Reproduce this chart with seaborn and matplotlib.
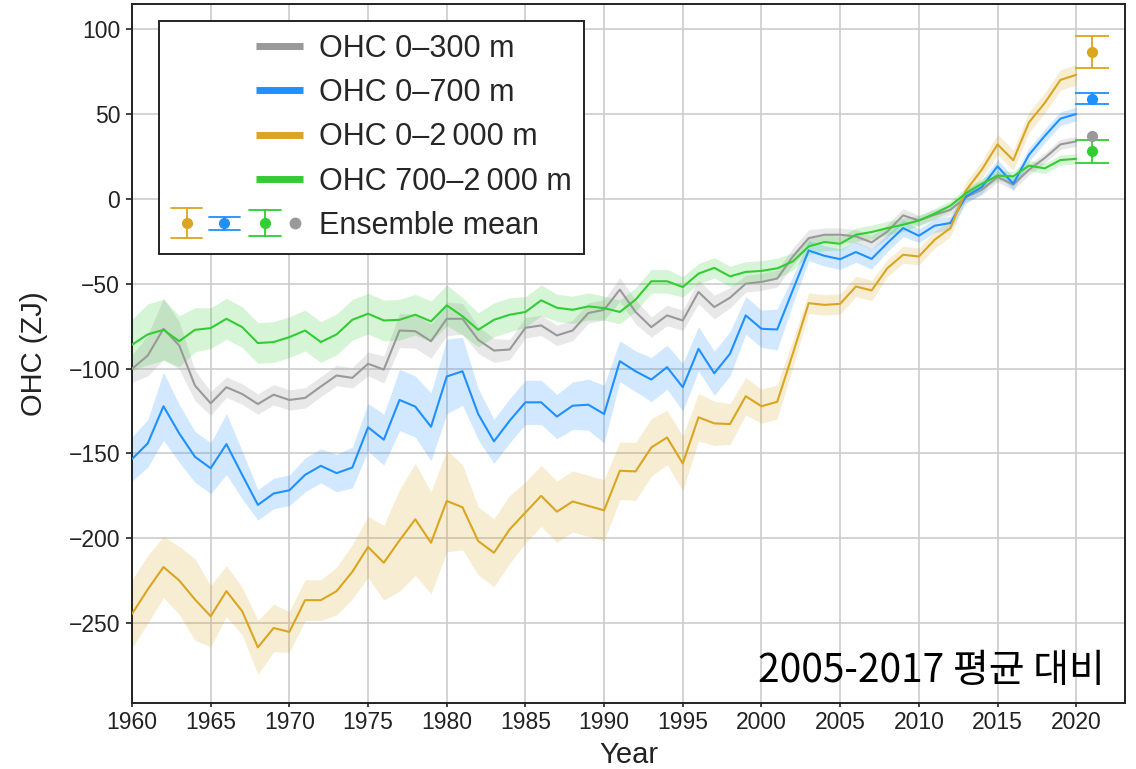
import seaborn as sns
import matplotlib.pyplot as plt
from matplotlib.lines import Line2D
from matplotlib.legend_handler import HandlerBase

years = list(range(1960, 2021))

# ocean heat content anomaly (ZJ), relative to 2005-2017 mean
ohc_300 = [-100.2, -92.3, -76.6, -86.4, -110.0, -120.5, -111.0, -115.0, -120.9, -115.4,
           -118.5, -117.3, -110.6, -104.1, -105.5, -97.2, -100.6, -77.6, -78.0, -83.9,
           -70.7, -70.7, -83.1, -89.4, -88.8, -76.0, -74.6, -80.5, -77.6, -67.3,
           -65.4, -53.5, -66.7, -75.6, -68.7, -71.7, -54.9, -63.8, -58.3, -50.0,
           -49.0, -47.0, -34.0, -23.2, -21.2, -21.2, -22.2, -25.7, -19.3, -9.8,
           -12.8, -9.4, -6.5, 1.0, 5.3, 12.8, 8.3, 17.1, 24.0, 32.0, 33.8]
ohc_700 = [-153.3, -144.1, -122.2, -138.2, -152.0, -158.7, -144.5, -162.6, -180.3, -173.6,
           -171.7, -162.6, -157.3, -161.6, -158.3, -134.6, -141.9, -118.5, -122.4, -134.3,
           -104.7, -101.6, -126.8, -142.9, -130.7, -119.9, -119.9, -128.3, -121.9, -121.3,
           -126.8, -95.7, -101.6, -106.5, -99.2, -111.0, -88.4, -102.8, -91.3, -68.7,
           -76.6, -77.0, -53.6, -30.5, -33.6, -35.6, -31.4, -35.4, -26.1, -17.3,
           -21.8, -15.9, -14.3, 1.4, 6.9, 19.1, 8.8, 25.9, 37.0, 47.2, 49.9]
ohc_2000 = [-244.5, -230.1, -216.9, -224.8, -236.0, -245.9, -231.1, -242.9, -264.2, -252.8,
            -255.1, -236.4, -236.4, -231.1, -219.7, -205.1, -214.4, -201.2, -188.8, -202.6,
            -178.0, -181.7, -201.6, -208.5, -194.7, -184.8, -175.0, -184.3, -178.3, -180.9,
            -183.5, -160.2, -160.6, -146.5, -140.6, -155.9, -128.7, -132.3, -132.7, -116.3,
            -122.2, -119.6, -91.0, -61.5, -62.5, -61.9, -51.7, -54.0, -40.9, -33.0,
            -34.0, -24.2, -17.3, 4.9, 17.1, 32.0, 22.7, 45.0, 56.4, 70.0, 73.0]
ohc_700_2000 = [-86.0, -79.9, -77.2, -83.9, -77.2, -76.2, -70.7, -75.6, -85.0, -84.4,
                -81.5, -77.6, -84.4, -79.9, -71.3, -67.7, -71.7, -71.3, -68.3, -72.2,
                -62.8, -69.2, -77.2, -71.3, -68.3, -66.7, -59.8, -64.2, -65.4, -63.4,
                -64.4, -66.7, -59.4, -48.6, -48.6, -52.0, -44.1, -40.7, -45.7, -43.1,
                -42.5, -41.0, -36.9, -28.1, -25.5, -26.5, -21.2, -19.6, -17.3, -15.3,
                -12.8, -8.8, -4.1, 3.3, 8.8, 13.6, 13.2, 19.5, 17.9, 22.8, 23.5]

# half-width of the uncertainty bands
unc_300 = [8, 12, 18, 14, 9, 7, 6, 6, 6, 6,
           6, 6, 6, 6, 6, 7, 8, 10, 10, 10,
           10, 9, 8, 7, 6, 6, 6, 6, 6, 6,
           6, 7, 7, 6, 6, 6, 7, 7, 6, 5,
           5, 5, 5, 5, 4, 4, 4, 4, 4, 4,
           3, 3, 3, 3, 3, 3, 3, 3, 3, 3, 3]
unc_700 = [13, 14, 20, 17, 15, 15, 18, 14, 9, 9,
           9, 10, 10, 11, 12, 14, 15, 18, 18, 20,
           22, 20, 15, 13, 13, 13, 13, 13, 14, 15,
           17, 12, 12, 13, 13, 14, 13, 13, 13, 11,
           11, 12, 8, 6, 6, 6, 6, 6, 5, 5,
           4, 4, 4, 4, 4, 4, 4, 4, 4, 4, 4]
unc_2000 = [20, 20, 18, 20, 24, 18, 15, 14, 16, 14,
            12, 12, 12, 14, 16, 18, 22, 30, 33, 30,
            30, 25, 20, 20, 20, 18, 18, 18, 18, 18,
            18, 17, 17, 17, 16, 16, 14, 13, 12, 11,
            10, 10, 8, 6, 6, 6, 6, 6, 5, 5,
            5, 5, 5, 5, 5, 6, 6, 6, 6, 6, 6]
unc_700_2000 = [15, 18, 18, 15, 13, 12, 12, 12, 12, 12,
                12, 12, 12, 12, 12, 12, 12, 12, 12, 12,
                12, 11, 10, 10, 10, 9, 9, 8, 8, 8,
                7, 7, 7, 7, 7, 6, 6, 6, 6, 6,
                6, 6, 5, 5, 5, 4, 4, 4, 4, 4,
                3, 3, 3, 3, 3, 3, 3, 3, 3, 3, 3]

# ensemble means plotted at 2021
ens_year = 2021
ens_mean_2000, ens_err_2000 = 86.5, 9.5
ens_mean_700, ens_err_700 = 59.0, 3.2
ens_mean_300 = 37.0
ens_mean_700_2000, ens_err_700_2000 = 28.0, 6.7

GRAY = "#999999"
BLUE = "#1E90FF"
ORANGE = "#DAA520"
GREEN = "#32CD32"

labels = ["OHC 0\u2013300 m", "OHC 0\u2013700 m", "OHC 0\u20132\u2009000 m", "OHC 700\u20132\u2009000 m"]


class ShortLineHandler(HandlerBase):
    def create_artists(self, legend, orig_handle, xdescent, ydescent, width, height, fontsize, trans):
        y = height / 2 - ydescent
        x0 = -xdescent + 0.64 * width
        x1 = -xdescent + width
        ln = Line2D([x0, x1], [y, y], color=orig_handle.get_color(), lw=5, solid_capstyle="butt")
        ln.set_transform(trans)
        return [ln]


class EnsembleProxy:
    pass


class EnsembleHandler(HandlerBase):
    def create_artists(self, legend, orig_handle, xdescent, ydescent, width, height, fontsize, trans):
        y = height / 2 - ydescent
        cap = 0.12 * width
        arts = []
        for frac, half, col in [(0.114, 10.8, ORANGE), (0.40, 4.7, BLUE), (0.71, 9.4, GREEN)]:
            x = -xdescent + frac * width
            arts.append(Line2D([x, x], [y - half, y + half], color=col, lw=1.3))
            arts.append(Line2D([x - cap, x + cap], [y + half, y + half], color=col, lw=1.3))
            arts.append(Line2D([x - cap, x + cap], [y - half, y - half], color=col, lw=1.3))
            arts.append(Line2D([x], [y], marker="o", ms=7, color=col, ls=""))
        arts.append(Line2D([-xdescent + 0.94 * width], [y], marker="o", ms=7.5, color=GRAY, ls=""))
        for a in arts:
            a.set_transform(trans)
        return arts


def main():
    sns.set_style("ticks")
    plt.rcParams["font.family"] = ["Liberation Sans", "DejaVu Sans"]

    fig = plt.figure(figsize=(11.36, 7.69), dpi=100)
    ax = fig.add_axes([0.1162, 0.0858, 0.8741, 0.909])

    series = [
        (ohc_300, unc_300, GRAY, 0.22),
        (ohc_700, unc_700, BLUE, 0.2),
        (ohc_2000, unc_2000, ORANGE, 0.2),
        (ohc_700_2000, unc_700_2000, GREEN, 0.2),
    ]
    for vals, unc, col, a in series:
        lo = [v - u for v, u in zip(vals, unc)]
        hi = [v + u for v, u in zip(vals, unc)]
        ax.fill_between(years, lo, hi, color=col, alpha=a, lw=0, zorder=1)

    handles = []
    for (vals, unc, col, a), lab in zip(series, labels):
        sns.lineplot(x=years, y=vals, color=col, lw=1.5, ax=ax, zorder=3)
        handles.append(Line2D([], [], color=col))

    ebkw = dict(fmt="o", ms=7, capsize=12, elinewidth=1.3, capthick=1.3, zorder=4)
    ax.errorbar([ens_year], [ens_mean_2000], yerr=[ens_err_2000], color=ORANGE, **ebkw)
    ax.errorbar([ens_year], [ens_mean_700], yerr=[ens_err_700], color=BLUE, **ebkw)
    ax.errorbar([ens_year], [ens_mean_700_2000], yerr=[ens_err_700_2000], color=GREEN, **ebkw)
    ax.plot([ens_year], [ens_mean_300], "o", ms=7, color=GRAY, zorder=4)

    ax.set_xlim(1960, 2023.1)
    ax.set_ylim(-297, 114.7)
    ax.set_xticks(range(1960, 2021, 5))
    ax.set_yticks(range(-250, 101, 50))
    ax.grid(True, color="#cccccc", lw=1.2, zorder=0)
    ax.set_axisbelow(True)
    for s in ax.spines.values():
        s.set_color("#222222")
        s.set_linewidth(1.4)
    ax.tick_params(axis="both", labelsize=16.5, colors="#222222", width=1.2)
    ax.tick_params(axis="y", length=4.5, pad=4)
    ax.tick_params(axis="x", length=3, pad=3)

    ax.set_xlabel("Year", fontsize=21, color="#222222", labelpad=5)
    ax.set_ylabel("OHC (ZJ)", fontsize=21, color="#222222", labelpad=15)

    ens = EnsembleProxy()
    leg = ax.legend(handles + [ens], labels + ["Ensemble mean"],
                    handler_map={Line2D: ShortLineHandler(), EnsembleProxy: EnsembleHandler()},
                    loc="upper left", bbox_to_anchor=(0.027, 0.976), borderaxespad=0,
                    fontsize=22, handlelength=4.31, handletextpad=0.5,
                    labelspacing=0.47, borderpad=0.42, fancybox=False, framealpha=1)
    leg.get_frame().set_edgecolor("#222222")
    leg.get_frame().set_linewidth(1.4)
    leg.set_zorder(10)

    ax.text(0.98, 0.030, "2005-2017 평균 대비", transform=ax.transAxes,
            ha="right", va="baseline", fontsize=28,
            family=["Noto Sans CJK KR", "DejaVu Sans"], color="black")

    plt.savefig("out.png", dpi=100)


if __name__ == "__main__":
    main()
